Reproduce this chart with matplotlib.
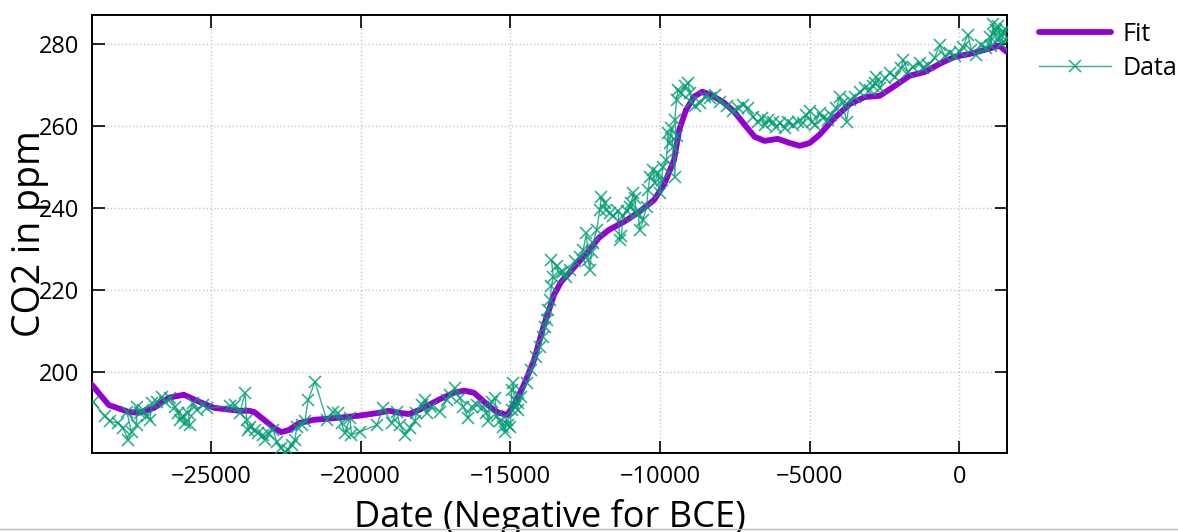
import numpy as np
import matplotlib
matplotlib.use("Agg")
import matplotlib.pyplot as plt

plt.rcParams["font.family"] = ["Open Sans", "DejaVu Sans"]

# smooth fit (year, ppm)
fit_year = [-28980, -28420, -27750, -27410, -26910, -26410, -25910, -25400, -24900,
            -24060, -23730, -23560, -23230, -22900, -22660, -22400, -22060, -21560,
            -20730, -20060, -19390, -19060, -18720, -18390, -18050, -17390, -16890,
            -16550, -16220, -15880, -15550, -15380, -15110, -14880, -14550, -14210,
            -13880, -13540, -13310, -13040, -12710, -12370, -12040, -11710, -11200,
            -10700, -10200, -9870, -9530, -9360, -9130, -8860, -8590, -8290, -7860,
            -7520, -7170, -6840, -6510, -6070, -5670, -5330, -5000, -4670, -4170,
            -3660, -3160, -2660, -2160, -1660, -1160, -660, -160, 340, 840, 1340, 1580]
fit_ppm = [196.9, 192.0, 190.3, 190.1, 191.3, 193.8, 194.5, 192.8, 191.3,
           190.6, 190.6, 190.3, 188.4, 186.4, 185.4, 185.9, 187.6, 188.4,
           188.9, 189.4, 190.1, 190.6, 190.1, 189.8, 190.8, 193.3, 195.0,
           195.5, 195.0, 192.8, 190.8, 190.1, 189.6, 192.0, 196.9, 203.0,
           211.5, 218.9, 222.0, 224.2, 226.9, 229.8, 232.8, 234.7, 236.7,
           239.1, 242.0, 245.7, 251.8, 259.1, 264.0, 267.2, 268.4, 267.6, 265.7,
           263.5, 260.3, 257.4, 256.4, 256.9, 255.9, 255.2, 255.9, 257.9, 262.0,
           265.4, 267.1, 267.4, 269.8, 272.3, 273.2, 275.2, 276.9, 277.6, 278.6, 279.6, 278.1]

# measured values (year, ppm)
data_year = [-28940, -28550, -28380, -28100, -27940, -27770, -27660, -27820, -27490, -27490,
             -27380, -27270, -27150, -27040, -26990, -26820, -26650, -26540, -26380, -26210,
             -26100, -26040, -25930, -25880, -25710, -25760, -25600, -25480, -25260, -25150,
             -24370, -24210, -24040, -23870, -23810, -23760, -23700, -23540, -23430, -23260,
             -23200, -23090, -22930, -22810, -22650, -22540, -22420, -22310, -22200, -22140,
             -21980, -21870, -21760, -21530, -21140, -20920, -20750, -20640, -20530, -20360,
             -20310, -20030, -19470, -19250, -18970, -18800, -18690, -18530, -18360, -18190,
             -18140, -17970, -17860, -17800, -17640, -17360, -17130, -17020, -16860, -16690,
             -16580, -16410, -16300, -16130, -15910, -15800, -15740, -15630, -15520, -15460,
             -15350, -15240, -15190, -15130, -15080, -15020, -14960, -14960, -14910, -14850,
             -14850, -14740, -14740, -14630, -14460, -14300, -14130, -14020, -13910, -13850,
             -13790, -13740, -13680, -13630, -13570, -13630, -13460, -13350, -13240, -13130,
             -13020, -12850, -12680, -12570, -12460, -12400, -12350, -12290, -12240, -12120,
             -12010, -11960, -11850, -11790, -11680, -11570, -11400, -11350, -11290, -11240,
             -11120, -11010, -10960, -10900, -10850, -10790, -10730, -10680, -10570, -10450,
             -10400, -10340, -10230, -10180, -10070, -10010, -9950, -9900, -9790, -9730,
             -9680, -9620, -9570, -9510, -9450, -9510, -9450, -9400, -9290, -9170,
             -9060, -9010, -8950, -8840, -8670, -8510, -8340, -8170, -8010, -7780,
             -7560, -7390, -7230, -7060, -6890, -6730, -6610, -6500, -6390, -6230,
             -6110, -6000, -5840, -5720, -5560, -5390, -5220, -5110, -5000, -4940,
             -4830, -4670, -4560, -4390, -4280, -4110, -4000, -3890, -3770, -3660,
             -3500, -3330, -3160, -3000, -2890, -2830, -2770, -2660, -2490, -2330,
             -2160, -1940, -1880, -1720, -1550, -1330, -1220, -1050, -830, -660,
             -490, -320, -160, 10, 120, 290, 400, 570, 730, 900,
             1010, 1050, 1120, 1180, 1240, 1300, 1350, 1400, 1460, 1520, 1570]
data_ppm = [192.8, 189.2, 188.0, 187.6, 186.3, 183.5, 185.5, 190.4, 187.1, 191.6,
            190.0, 190.8, 189.2, 188.4, 192.4, 192.8, 194.0, 192.8, 193.7, 191.6,
            190.0, 188.4, 189.2, 187.6, 187.1, 190.0, 192.4, 190.8, 192.0, 191.2,
            191.8, 192.0, 190.0, 194.9, 188.4, 185.9, 186.7, 185.9, 185.1, 184.7,
            183.5, 185.1, 185.9, 183.1, 181.5, 180.6, 181.0, 182.3, 183.5, 186.7,
            187.1, 188.0, 193.2, 197.7, 188.4, 190.4, 190.0, 187.6, 185.1, 188.8,
            184.7, 185.5, 187.1, 191.2, 187.6, 190.4, 187.1, 184.7, 186.3, 188.0,
            190.0, 192.0, 193.2, 190.0, 191.6, 190.4, 193.2, 194.5, 196.1, 193.7,
            191.6, 188.8, 191.6, 192.0, 191.6, 190.0, 188.0, 192.8, 193.7, 189.2,
            188.0, 186.7, 185.5, 188.4, 187.1, 186.7, 190.8, 195.7, 197.3, 191.6,
            193.2, 190.8, 192.4, 194.0, 197.3, 200.6, 203.8, 206.2, 208.7, 211.1,
            212.8, 215.2, 217.6, 220.9, 223.3, 227.4, 225.8, 224.1, 224.5, 223.3,
            225.0, 227.0, 228.2, 229.8, 233.9, 227.4, 225.0, 229.4, 231.5, 234.7,
            239.6, 242.8, 241.2, 239.6, 238.8, 238.0, 239.2, 232.3, 233.1, 238.0,
            239.2, 240.4, 241.2, 243.7, 242.5, 238.8, 238.8, 234.7, 237.1, 240.4,
            244.5, 247.7, 249.3, 246.1, 248.5, 243.7, 246.9, 250.1, 251.8, 258.3,
            255.9, 259.5, 255.0, 247.7, 257.5, 261.5, 266.4, 268.9, 268.0, 269.7,
            270.5, 268.0, 266.0, 264.8, 265.6, 267.2, 266.8, 267.6, 266.0, 264.8,
            263.6, 264.4, 265.2, 264.4, 262.3, 261.1, 262.0, 260.3, 261.5, 261.1,
            259.9, 260.7, 259.5, 261.1, 260.3, 261.1, 260.7, 262.8, 263.6, 261.1,
            260.3, 263.2, 262.0, 261.5, 262.8, 264.4, 267.2, 265.6, 261.1, 266.4,
            267.2, 268.4, 269.3, 268.9, 269.7, 270.5, 272.1, 269.3, 271.7, 272.9,
            272.1, 274.1, 276.2, 273.3, 274.5, 275.4, 274.1, 275.0, 276.6, 279.8,
            277.0, 277.8, 277.0, 278.2, 279.4, 282.3, 278.6, 277.4, 279.8, 279.0,
            281.8, 279.5, 285.0, 282.0, 283.4, 284.5, 281.4, 280.0, 282.6, 283.8, 281.0]

x_ticks = [-25000, -20000, -15000, -10000, -5000, 0]
y_ticks = [200, 220, 240, 260, 280]

fig = plt.figure(figsize=(11.78, 5.32), dpi=100)
ax = fig.add_axes([0.0781, 0.1485, 0.7767, 0.8233])

ax.plot(fit_year, fit_ppm, color="#9400D3", lw=4.2, label="Fit", zorder=3,
        solid_capstyle="round", solid_joinstyle="round")
ax.plot(data_year, data_ppm, color="#009E73", lw=1.0, marker="x", ms=8, mew=1.2,
        alpha=0.8, label="Data", zorder=4)

ax.set_xlim(-28980, 1590)
ax.set_ylim(180.3, 287.1)
ax.set_xticks(x_ticks)
ax.set_yticks(y_ticks)
ax.grid(True, color="#c8c8c8", linestyle=":", linewidth=1.0)
ax.tick_params(direction="in", length=9, width=1.2, top=True, right=True,
               labelsize=17, pad=9)
for s in ax.spines.values():
    s.set_linewidth(1.4)

ax.set_xlabel("Date (Negative for BCE)", fontsize=26, labelpad=7)
ax.set_ylabel("CO2 in ppm", fontsize=27, labelpad=-7)

leg = ax.legend(loc="upper left", bbox_to_anchor=(1.01, 1.036), frameon=False,
                fontsize=18, handlelength=2.9, handletextpad=0.45, labelspacing=0.38)

fig.add_artist(plt.Line2D([0, 1], [0.006, 0.006], color="#bbbbbb", lw=1.0,
                          transform=fig.transFigure))

fig.savefig("out.png", dpi=100)
